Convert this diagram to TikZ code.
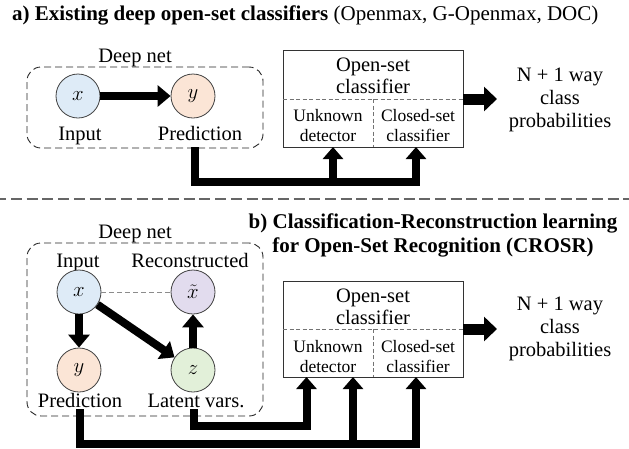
\documentclass[tikz,border=0pt]{standalone}
\usepackage{fontspec}
\setmainfont{Liberation Serif}
\usetikzlibrary{arrows.meta,calc}
\definecolor{cxc}{HTML}{DEEBF7}
\definecolor{cyc}{HTML}{FBE5D6}
\definecolor{cxt}{HTML}{E2DCEE}
\definecolor{czc}{HTML}{E2F0D9}
\begin{document}
\begin{tikzpicture}[x=1pt,y=-1pt,
  lbl/.style={font=\fontsize{20.5}{23}\selectfont, inner sep=0pt, anchor=base},
  sublbl/.style={font=\fontsize{17.5}{20}\selectfont, inner sep=0pt, anchor=base},
  ttl/.style={font=\fontsize{21}{24}\selectfont, inner sep=0pt},
  var/.style={circle, draw=black!75, line width=0.8pt, minimum size=44pt, inner sep=0pt, font=\fontsize{20}{20}\selectfont},
  arr/.style={line width=8pt, -{Triangle[width=21pt,length=13pt]}},
  bigarr/.style={line width=11pt, -{Triangle[width=24pt,length=13pt]}},
  conn/.style={line width=8pt, -{Triangle[width=20pt,length=12pt]}},
  netbox/.style={draw=black!85, line width=0.9pt, dash pattern=on 7pt off 4pt, rounded corners=14pt, inner sep=0pt},
  osbox/.style={draw=black!80, line width=1pt, inner sep=0pt},
  inner dash/.style={draw=black!55, line width=0.8pt, dash pattern=on 4pt off 2.5pt},
  sepline/.style={draw=black!60, line width=1.8pt, dash pattern=on 11pt off 4.7pt, dash phase=4.7pt}
]
\useasboundingbox (0,0) rectangle (629,448);

% ---------- titles ----------
\node[ttl, anchor=base west] (titleA) at (12,20) {\textbf{a) Existing deep open-set classifiers} (Openmax, G-Openmax, DOC)};
\node[ttl, anchor=base] (titleB1) at (433,228) {\textbf{b) Classification-Reconstruction learning}};
\node[ttl, anchor=base] (titleB2) at (433,252) {\textbf{for Open-Set Recognition (CROSR)}};

% separator
\coordinate (sepL) at (0,199);
\coordinate (sepR) at (629,199);
\draw[sepline] (sepL) -- (sepR);

% ================= part a =================
\node[netbox, minimum width=236pt, minimum height=81pt] (netA) at (145,107.5) {};
\node[lbl] (deepA) at (135,62) {Deep net};
\node[var, fill=cxc] (xA) at (78,96) {$x$};
\node[var, fill=cyc] (yA) at (193,96) {$y$};
\node[lbl] (inA) at (80,140) {Input};
\node[lbl] (prA) at (200,140) {Prediction};
\draw[arr] (xA) -- (yA);

\node[osbox, minimum width=180pt, minimum height=97pt] (osA) at (373,98.5) {};
\coordinate (osAl) at (283,99);
\coordinate (osAr) at (463,99);
\coordinate (osAm) at (373,99);
\coordinate (osAb) at (373,147);
\draw[inner dash] (osAl) -- (osAr);
\draw[inner dash] (osAm) -- (osAb);
\node[lbl] (osA1) at (373,71) {Open-set};
\node[lbl] (osA2) at (373,93) {classifier};
\node[sublbl] (unA1) at (328,121) {Unknown};
\node[sublbl] (unA2) at (328,141) {detector};
\node[sublbl] (clA1) at (418,121) {Closed-set};
\node[sublbl] (clA2) at (418,141) {classifier};

\coordinate (outA) at (497,99);
\draw[bigarr] (osAr) -- (outA);
\node[lbl] (nA1) at (560,81) {N + 1 way};
\node[lbl] (nA2) at (560,104) {class};
\node[lbl] (nA3) at (560,127) {probabilities};

\coordinate (sA) at (195,147);
\coordinate (jA) at (416,182);
\coordinate (a1) at (333,147);
\coordinate (a2) at (416,147);
\draw[conn] (sA) |- (jA) -- (a2);
\draw[conn] (a1 |- jA) -- (a1);

% ================= part b =================
\node[netbox, minimum width=236pt, minimum height=173pt] (netB) at (145,329.5) {};
\node[lbl] (deepB) at (135,238) {Deep net};
\node[lbl] (inB) at (78,267) {Input};
\node[lbl] (reB) at (190,267) {Reconstructed};
\node[var, fill=cxc] (xB) at (79,292) {$x$};
\node[var, fill=cxt] (xtB) at (193,292) {$\tilde{x}$};
\node[var, fill=cyc] (yB) at (79,370) {$y$};
\node[var, fill=czc] (zB) at (193,370) {$z$};
\node[lbl] (prB) at (80,407) {Prediction};
\node[lbl] (laB) at (196,407) {Latent vars.};
\draw[draw=black!45, line width=0.8pt, dash pattern=on 5pt off 3pt] (xB) -- (xtB);
\draw[arr] (xB) -- (yB);
\draw[arr] (xB) -- (zB);
\draw[arr] (zB) -- (xtB);

\node[osbox, minimum width=180pt, minimum height=96pt] (osB) at (373,329) {};
\coordinate (osBl) at (283,329);
\coordinate (osBr) at (463,329);
\coordinate (osBm) at (373,329);
\coordinate (osBb) at (373,377);
\draw[inner dash] (osBl) -- (osBr);
\draw[inner dash] (osBm) -- (osBb);
\node[lbl] (osB1) at (373,302) {Open-set};
\node[lbl] (osB2) at (373,324) {classifier};
\node[sublbl] (unB1) at (328,352) {Unknown};
\node[sublbl] (unB2) at (328,372) {detector};
\node[sublbl] (clB1) at (418,352) {Closed-set};
\node[sublbl] (clB2) at (418,372) {classifier};

\coordinate (outB) at (497,329);
\draw[bigarr] (osBr) -- (outB);
\node[lbl] (nB1) at (560,310) {N + 1 way};
\node[lbl] (nB2) at (560,333) {class};
\node[lbl] (nB3) at (560,356) {probabilities};

\coordinate (sL) at (194,409);
\coordinate (jL) at (306.5,425.5);
\coordinate (b1) at (306.5,377);
\draw[conn] (sL) |- (jL) -- (b1);

\coordinate (sP) at (80,409);
\coordinate (jP) at (416,444);
\coordinate (b2) at (353,377);
\coordinate (b3) at (416,377);
\draw[conn] (sP) |- (jP) -- (b3);
\draw[conn] (b2 |- jP) -- (b2);
\end{tikzpicture}
\end{document}
